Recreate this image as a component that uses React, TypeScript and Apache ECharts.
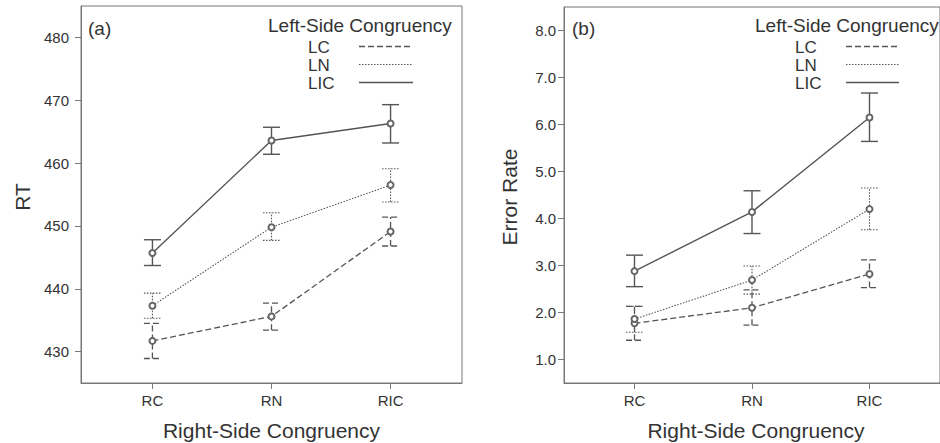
import React, { useEffect, useRef } from "react";
import * as echarts from "echarts";

const categories = ["RC", "RN", "RIC"];
const groupNames = ["LC", "LN", "LIC"];

// Panel (a): RT
const rtTicks = [430, 440, 450, 460, 470, 480];
const rtLC = [431.7, 435.6, 449.1];
const rtLCLow = [428.9, 433.4, 446.8];
const rtLCHigh = [434.5, 437.7, 451.4];
const rtLN = [437.3, 449.8, 456.5];
const rtLNLow = [435.3, 447.7, 453.8];
const rtLNHigh = [439.3, 452.1, 459.1];
const rtLIC = [445.7, 463.6, 466.3];
const rtLICLow = [443.7, 461.4, 463.2];
const rtLICHigh = [447.8, 465.7, 469.3];

// Panel (b): Error Rate
const errTicks = [1, 2, 3, 4, 5, 6, 7, 8];
const erLC = [1.77, 2.1, 2.82];
const erLCLow = [1.41, 1.73, 2.53];
const erLCHigh = [2.13, 2.48, 3.12];
const erLN = [1.86, 2.69, 4.2];
const erLNLow = [1.58, 2.39, 3.76];
const erLNHigh = [2.13, 2.99, 4.65];
const erLIC = [2.88, 4.14, 6.15];
const erLICLow = [2.55, 3.68, 5.64];
const erLICHigh = [3.22, 4.59, 6.67];

const FONT = "'Liberation Sans', Arial, Helvetica, sans-serif";
const TEXT = "#333";
const LINE = "#555";
const BORDER = "#777";
const dashes: (number[] | null)[] = [[6, 3], [1.5, 1.5], null];
const widths = [1.3, 1.1, 1.4];

export default function App() {
  const ref = useRef<HTMLDivElement>(null);
  useEffect(() => {
    if (!ref.current) return;
    const chart = echarts.init(ref.current, null, { renderer: "svg" });

    const panels = [
      {
        means: [rtLC, rtLN, rtLIC],
        lows: [rtLCLow, rtLNLow, rtLICLow],
        highs: [rtLCHigh, rtLNHigh, rtLICHigh],
      },
      {
        means: [erLC, erLN, erLIC],
        lows: [erLCLow, erLNLow, erLICLow],
        highs: [erLCHigh, erLNHigh, erLICHigh],
      },
    ];

    const series: any[] = [];
    panels.forEach((p, pi) => {
      groupNames.forEach((name, gi) => {
        const dash = dashes[gi];
        series.push({
          type: "custom",
          name: name + "-err-" + pi,
          xAxisIndex: pi,
          yAxisIndex: pi,
          data: p.lows[gi].map((lo, i) => [i + 1, lo, p.highs[gi][i]]),
          encode: { x: 0, y: [1, 2] },
          silent: true,
          renderItem: (params: any, api: any) => {
            const x = api.value(0);
            const a = api.coord([x, api.value(1)]);
            const b = api.coord([x, api.value(2)]);
            const hw = 8.5;
            const style: any = {
              stroke: LINE,
              lineWidth: widths[gi],
              fill: null,
            };
            if (dash) style.lineDash = dash;
            return {
              type: "group",
              children: [
                { type: "line", shape: { x1: a[0], y1: a[1], x2: b[0], y2: b[1] }, style },
                { type: "line", shape: { x1: a[0] - hw, y1: a[1], x2: a[0] + hw, y2: a[1] }, style },
                { type: "line", shape: { x1: b[0] - hw, y1: b[1], x2: b[0] + hw, y2: b[1] }, style },
              ],
            };
          },
          z: 2,
        });
        series.push({
          type: "line",
          name: name + "-" + pi,
          xAxisIndex: pi,
          yAxisIndex: pi,
          data: p.means[gi].map((v, i) => [i + 1, v]),
          symbol: "emptyCircle",
          symbolSize: 6,
          itemStyle: { color: "#666", borderColor: "#666", borderWidth: 1.2 },
          lineStyle: { color: LINE, width: widths[gi], type: dash ? dash : "solid" },
          silent: true,
          z: 3,
        });
      });
    });

    const grids = [
      { left: 81, top: 6, width: 381, height: 377 },
      { left: 564, top: 7, width: 384, height: 376 },
    ];

    const xAxisBase = (gi: number) => ({
      type: "value",
      gridIndex: gi,
      min: 0.4,
      max: 3.6,
      splitLine: { show: false },
      axisLine: { show: true, onZero: false, lineStyle: { color: BORDER, width: 1 } },
      axisTick: { show: true, inside: false, length: 6, customValues: [1, 2, 3], lineStyle: { color: BORDER } },
      axisLabel: {
        customValues: [1, 2, 3],
        formatter: (v: number) => categories[Math.round(v) - 1],
        color: TEXT,
        fontSize: 15,
        fontFamily: FONT,
        margin: 10,
      },
    });

    const graphics: any[] = [];
    const addText = (text: string, x: number, y: number, size: number, opts: any = {}) => {
      graphics.push({
        type: "text",
        x,
        y,
        rotation: opts.rotation || 0,
        silent: true,
        style: {
          text,
          fill: TEXT,
          font: `${size}px ${FONT}`,
          lineHeight: opts.lineHeight || undefined,
          align: opts.align || "left",
          verticalAlign: "middle",
        },
      });
    };

    // axis titles
    addText("RT", 22, 197, 21, { rotation: Math.PI / 2, align: "center" });
    addText("Error Rate", 509, 197, 21, { rotation: Math.PI / 2, align: "center" });
    addText("Right-Side Congruency", 271.5, 430, 21, { align: "center" });
    addText("Right-Side Congruency", 756, 430, 21, { align: "center" });
    // panel labels
    addText("(a)", 88, 28, 19);
    addText("(b)", 572, 28, 19);

    // legends
    const legends = [
      { titleX: 268, textX: 308, lineX1: 359, lineX2: 413 },
      { titleX: 755, textX: 795, lineX1: 846, lineX2: 899 },
    ];
    const legendY = [47.5, 65.5, 83.5];
    legends.forEach((lg) => {
      addText("Left-Side Congruency", lg.titleX, 25, 19);
      groupNames.forEach((name, gi) => {
        addText(name, lg.textX, legendY[gi], 17, { lineHeight: 16 });
        const style: any = { stroke: LINE, lineWidth: widths[gi] };
        if (dashes[gi]) style.lineDash = dashes[gi];
        graphics.push({
          type: "line",
          silent: true,
          shape: { x1: lg.lineX1, y1: legendY[gi] - 1, x2: lg.lineX2, y2: legendY[gi] - 1 },
          style,
        });
      });
    });

    chart.setOption({
      animation: false,
      backgroundColor: "#fff",
      grid: grids.map((g) => ({ ...g, show: true, borderColor: BORDER, borderWidth: 1, backgroundColor: "transparent" })),
      xAxis: [xAxisBase(0), xAxisBase(1)],
      yAxis: [
        {
          type: "value",
          gridIndex: 0,
          min: 425,
          max: 485,
          splitLine: { show: false },
          axisLine: { show: true, lineStyle: { color: BORDER, width: 1 } },
          axisTick: { show: true, inside: false, length: 6, customValues: rtTicks, lineStyle: { color: BORDER } },
          axisLabel: {
            customValues: rtTicks,
            formatter: (v: number) => String(Math.round(v)),
            color: TEXT,
            fontSize: 15,
            fontFamily: FONT,
            margin: 12,
          },
        },
        {
          type: "value",
          gridIndex: 1,
          min: 0.5,
          max: 8.5,
          splitLine: { show: false },
          axisLine: { show: true, lineStyle: { color: BORDER, width: 1 } },
          axisTick: { show: true, inside: false, length: 6, customValues: errTicks, lineStyle: { color: BORDER } },
          axisLabel: {
            customValues: errTicks,
            formatter: (v: number) => v.toFixed(1),
            color: TEXT,
            fontSize: 15,
            fontFamily: FONT,
            margin: 8,
          },
        },
      ],
      series,
      graphic: graphics,
    });

    return () => chart.dispose();
  }, []);

  return (
    <div
      ref={ref}
      style={{ position: "fixed", left: 0, top: 0, width: 940, height: 443, background: "#fff" }}
    />
  );
}
